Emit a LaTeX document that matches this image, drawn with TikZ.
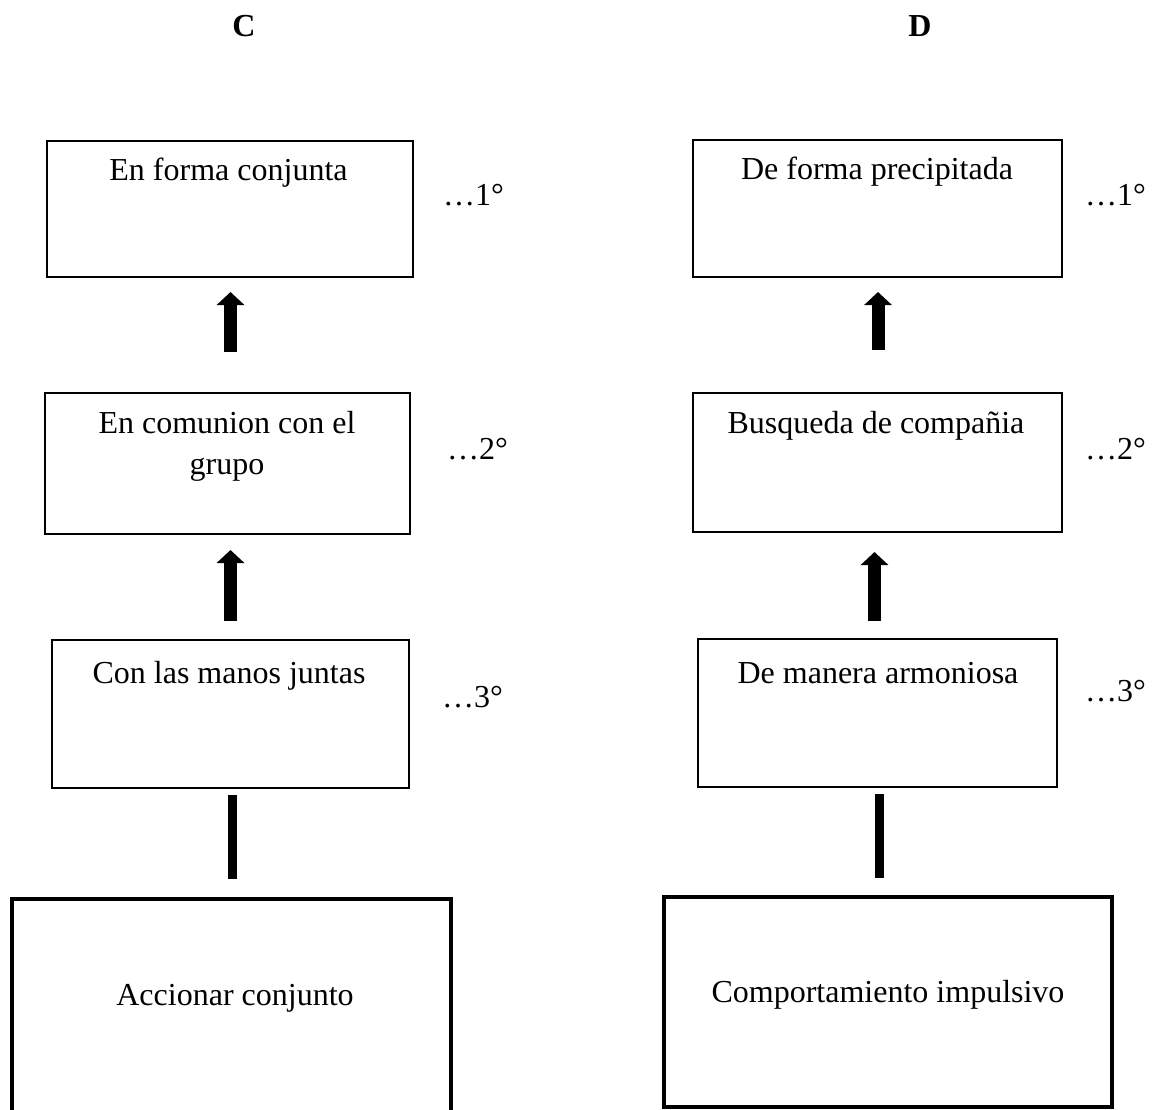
\documentclass[tikz,border=0pt]{standalone}
\usepackage{fontspec}
\setmainfont{Liberation Serif}
\usetikzlibrary{arrows.meta}
\tikzset{
  box/.style={draw, line width=2pt, inner sep=0pt, outer sep=0pt},
  bigbox/.style={draw, line width=4pt, inner sep=0pt, outer sep=0pt},
  txt/.style={anchor=base, inner sep=0pt, font=\fontsize{32}{41}\selectfont},
  lbl/.style={anchor=base west, inner sep=0pt, font=\fontsize{32}{41}\selectfont},
  ttl/.style={anchor=base, inner sep=0pt, font=\fontsize{32}{41}\selectfont\bfseries},
  fatarrow/.style={line width=13pt, -{Triangle[width=27pt,length=13pt]}},
  fatline/.style={line width=9pt}
}
\begin{document}
\begin{tikzpicture}[x=1pt,y=-1pt]
\clip (0,0) rectangle (1154,1110);
\fill[white] (0,0) rectangle (1154,1110);
% titles
\node[ttl] (tc) at (244,37) {C};
\node[ttl] (td) at (920,37) {D};
% column C
\node[box, minimum width=366pt, minimum height=136pt] (c1) at (230,209) {};
\node[box, minimum width=365pt, minimum height=141pt] (c2) at (227.5,463.5) {};
\node[box, minimum width=357pt, minimum height=148pt] (c3) at (230.5,714) {};
\node[bigbox, minimum width=439pt, minimum height=226pt] (c4) at (231.5,1012) {};
\node[txt] (c1t) at (228.5,181) {En forma conjunta};
\node[txt] (c2t) at (227,433) {En comunion con el};
\node[txt] (c2u) at (227,474) {grupo};
\node[txt] (c3t) at (229,683) {Con las manos juntas};
\node[txt] (c4t) at (235,1005) {Accionar conjunto};
\node[lbl] (c1l) at (443,206) {…1°};
\node[lbl] (c2l) at (447,459) {…2°};
\node[lbl] (c3l) at (442,707) {…3°};
\coordinate (ca1s) at (230.5,352);
\coordinate (ca1e) at (230.5,292);
\coordinate (ca2s) at (230.5,621);
\coordinate (ca2e) at (230.5,550);
\coordinate (cl1s) at (232.5,795);
\coordinate (cl1e) at (232.5,879);
\draw[fatarrow] (ca1s) -- (ca1e);
\draw[fatarrow] (ca2s) -- (ca2e);
\draw[fatline] (cl1s) -- (cl1e);
% column D
\node[box, minimum width=369pt, minimum height=137pt] (d1) at (877.5,208.5) {};
\node[box, minimum width=369pt, minimum height=139pt] (d2) at (877.5,462.5) {};
\node[box, minimum width=359pt, minimum height=148pt] (d3) at (877.5,713) {};
\node[bigbox, minimum width=448pt, minimum height=210pt] (d4) at (888,1002) {};
\node[txt] (d1t) at (877,180) {De forma precipitada};
\node[txt] (d2t) at (876,433) {Busqueda de compañia};
\node[txt] (d3t) at (878,683) {De manera armoniosa};
\node[txt] (d4t) at (888,1002) {Comportamiento impulsivo};
\node[lbl] (d1l) at (1085,206) {…1°};
\node[lbl] (d2l) at (1085,459) {…2°};
\node[lbl] (d3l) at (1085,701) {…3°};
\coordinate (da1s) at (878,350);
\coordinate (da1e) at (878,292);
\coordinate (da2s) at (874.5,621);
\coordinate (da2e) at (874.5,552);
\coordinate (dl1s) at (879,794);
\coordinate (dl1e) at (879,878);
\draw[fatarrow] (da1s) -- (da1e);
\draw[fatarrow] (da2s) -- (da2e);
\draw[fatline] (dl1s) -- (dl1e);
\end{tikzpicture}
\end{document}
